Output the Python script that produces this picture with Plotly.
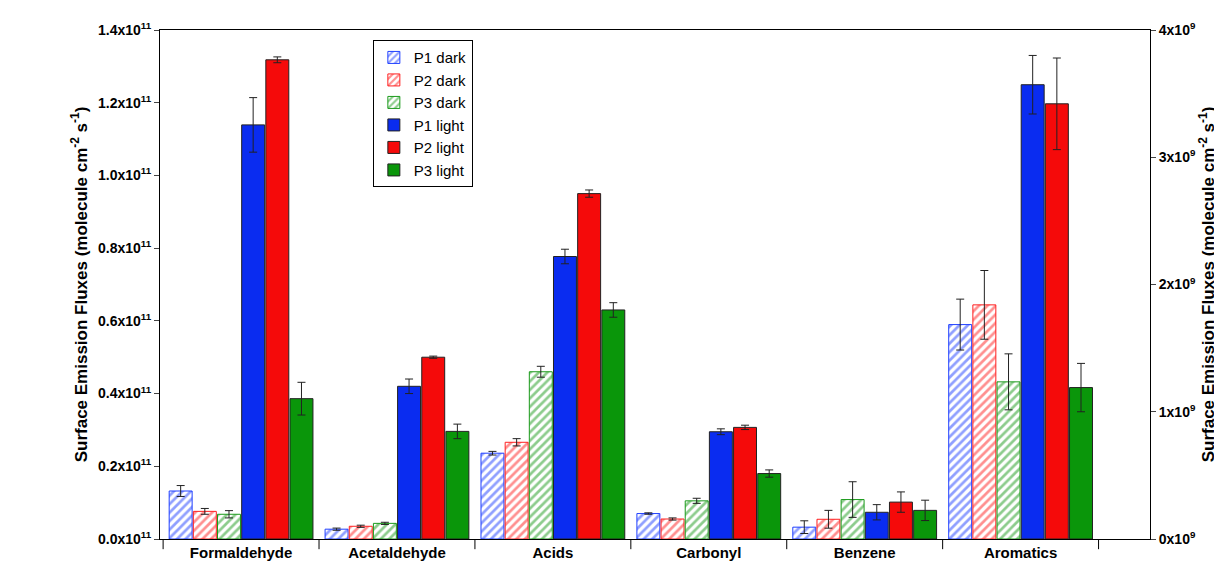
import plotly.graph_objects as go

categories = ["Formaldehyde", "Acetaldehyde", "Acids", "Carbonyl", "Benzene", "Aromatics"]
series = ["P1 dark", "P2 dark", "P3 dark", "P1 light", "P2 light", "P3 light"]
colors = ["#1f3fff", "#ff2020", "#1a9a1a", "#0a2cf0", "#f50a0a", "#0a960a"]

# left axis (x1e11): Formaldehyde, Acetaldehyde, Acids, Carbonyl
left_vals = {
    "P1 dark": [0.132, 0.027, 0.236, 0.070],
    "P2 dark": [0.076, 0.035, 0.266, 0.055],
    "P3 dark": [0.068, 0.043, 0.460, 0.105],
    "P1 light": [1.139, 0.420, 0.777, 0.295],
    "P2 light": [1.318, 0.500, 0.950, 0.307],
    "P3 light": [0.386, 0.296, 0.630, 0.180],
}
left_err = {
    "P1 dark": [0.015, 0.003, 0.005, 0.002],
    "P2 dark": [0.008, 0.003, 0.010, 0.003],
    "P3 dark": [0.010, 0.003, 0.015, 0.007],
    "P1 light": [0.075, 0.020, 0.020, 0.008],
    "P2 light": [0.008, 0.003, 0.010, 0.006],
    "P3 light": [0.045, 0.020, 0.020, 0.010],
}
# right axis (x1e9): Benzene, Aromatics
right_vals = {
    "P1 dark": [0.093, 1.685],
    "P2 dark": [0.155, 1.840],
    "P3 dark": [0.310, 1.235],
    "P1 light": [0.210, 3.570],
    "P2 light": [0.290, 3.420],
    "P3 light": [0.225, 1.190],
}
right_err = {
    "P1 dark": [0.05, 0.20],
    "P2 dark": [0.07, 0.27],
    "P3 dark": [0.14, 0.22],
    "P1 light": [0.06, 0.23],
    "P2 light": [0.08, 0.36],
    "P3 light": [0.08, 0.19],
}

fig = go.Figure()
for i, s in enumerate(series):
    dark = "dark" in s
    marker = dict(color="white" if dark else colors[i], line=dict(color=colors[i] if dark else "#222", width=1))
    if dark:
        marker["pattern"] = dict(shape="/", fgcolor=colors[i], bgcolor="white", size=6, solidity=0.45)
    err = dict(type="data", thickness=1, width=4, color="#222")
    fig.add_trace(go.Bar(x=[0, 1, 2, 3], y=left_vals[s], name=s, offsetgroup=s, marker=marker,
                         error_y=dict(array=left_err[s], **err), yaxis="y"))
    fig.add_trace(go.Bar(x=[4, 5], y=right_vals[s], name=s, offsetgroup=s, marker=marker, showlegend=False,
                         error_y=dict(array=right_err[s], **err), yaxis="y2"))

lt = [i * 0.2 for i in range(8)]
rt = [0, 1, 2, 3, 4]
bold = dict(size=14, family="Arial, Liberation Sans", weight="bold", color="black")
title = "Surface Emission Fluxes (molecule cm<sup>-2</sup> s<sup>-1</sup>)"
fig.update_layout(
    width=1222, height=565, barmode="group", bargap=0.07, bargroupgap=0.05,
    plot_bgcolor="white", paper_bgcolor="white",
    font=dict(family="Arial, Liberation Sans", size=15, color="black"),
    margin=dict(l=152, r=80, t=22, b=25),
    xaxis=dict(range=[-0.52, 5.83], tickvals=list(range(6)), ticktext=categories, showline=True,
               linecolor="black", mirror=True, ticks="", tickfont=dict(bold, size=15)),
    yaxis=dict(range=[0, 1.4], tickvals=lt, ticktext=["%.1fx10<sup>11</sup>" % v for v in lt],
               showline=True, linecolor="black", ticks="outside", showgrid=False, zeroline=False,
               tickfont=bold, title=dict(text=title, font=dict(bold, size=17), standoff=6)),
    yaxis2=dict(range=[0, 4], overlaying="y", side="right", tickvals=rt,
                ticktext=["%dx10<sup>9</sup>" % v for v in rt], showline=True, linecolor="black",
                ticks="outside", showgrid=False, zeroline=False,
                tickfont=bold, title=dict(text=title, font=dict(bold, size=17), standoff=2)),
    legend=dict(x=0.215, y=0.98, xanchor="left", yanchor="top", bordercolor="black", borderwidth=1,
                font=dict(size=15), tracegroupgap=0, itemwidth=30),
)
# category boundary ticks along bottom
for b in [-0.5, 0.5, 1.5, 2.5, 3.5, 4.5, 5.5]:
    fig.add_shape(type="line", xref="x", yref="paper", x0=b, x1=b, y0=0, y1=-0.02, line=dict(color="black", width=1))
fig.write_html("out.html")
